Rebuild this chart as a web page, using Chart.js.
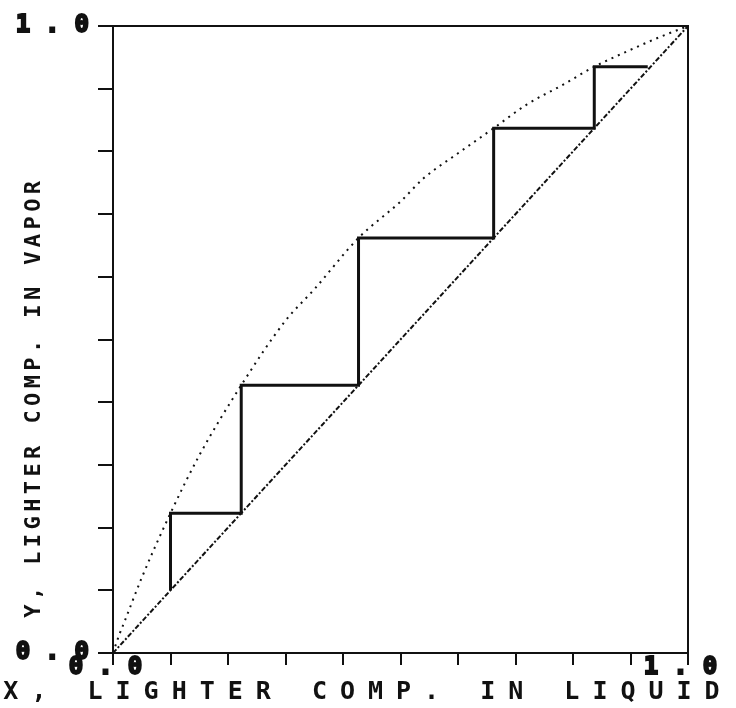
<!DOCTYPE html>
<html>
<head>
<meta charset="utf-8">
<script src="https://cdn.jsdelivr.net/npm/chart.js@4/dist/chart.umd.min.js"></script>
<style>
  html, body { margin: 0; padding: 0; background: #fff; }
  #wrap { width: 736px; height: 708px; }
</style>
</head>
<body>
<div id="wrap"><canvas id="c" width="736" height="708"></canvas></div>
<script>
// ---- data ----
const eqX = [0, 0.01, 0.02, 0.05, 0.10, 0.15, 0.223, 0.30, 0.35, 0.427, 0.50, 0.54, 0.60, 0.662, 0.72, 0.78, 0.837, 0.90, 0.95, 1.0];
const eqY = [0, 0.027, 0.05, 0.12, 0.223, 0.315, 0.427, 0.53, 0.58, 0.662, 0.72, 0.757, 0.797, 0.837, 0.875, 0.905, 0.935, 0.962, 0.982, 1.0];
const diagX = [0, 1];
const diagY = [0, 1];
const stepX = [0.10, 0.10, 0.223, 0.223, 0.427, 0.427, 0.662, 0.662, 0.837, 0.837, 0.93];
const stepY = [0.10, 0.223, 0.223, 0.427, 0.427, 0.662, 0.662, 0.837, 0.837, 0.935, 0.935];
const xTickLabels = ['0.0', '', '', '', '', '', '', '', '', '', '1.0'];
const yTickLabels = ['0.0', '', '', '', '', '', '', '', '', '', '1.0'];
const xTitle = 'X, LIGHTER COMP. IN LIQUID';
const yTitle = '  Y, LIGHTER COMP. IN VAPOR';

// ---- styling ----
const INK = '#111';
const MONO = "'DejaVu Sans Mono'";
const spacingBySize = { 24: '15px', 25: '13px', 22: '4.4px' };

const pts = (xs, ys) => xs.map((x, i) => ({ x: x, y: ys[i] }));

// printer-style wide letter spacing for the text Chart.js draws
const letterSpacingPlugin = {
  id: 'letterSpacing',
  beforeInit(chart) {
    const ctx = chart.ctx;
    const ft = ctx.fillText, st = ctx.strokeText, mt = ctx.measureText;
    const apply = () => {
      const m = /(\d+(?:\.\d+)?)px/.exec(ctx.font);
      ctx.letterSpacing = (m && spacingBySize[Math.round(parseFloat(m[1]))]) || '0px';
    };
    ctx.fillText = function (t, x, y) { apply(); return ft.call(ctx, t, x, y); };
    ctx.strokeText = function (t, x, y) { apply(); return st.call(ctx, t, x, y); };
    ctx.measureText = function (t) { apply(); return mt.call(ctx, t); };
  }
};

Chart.defaults.color = INK;

new Chart(document.getElementById('c'), {
  type: 'scatter',
  data: {
    datasets: [
      {
        label: 'y = x',
        data: pts(diagX, diagY),
        showLine: true,
        borderColor: INK,
        borderWidth: 2,
        borderDash: [5, 2, 2, 2],
        pointRadius: 0,
        tension: 0
      },
      {
        label: 'equilibrium',
        data: pts(eqX, eqY),
        showLine: true,
        borderColor: INK,
        borderWidth: 2,
        borderDash: [2, 5],
        pointRadius: 0,
        cubicInterpolationMode: 'monotone'
      },
      {
        label: 'stages',
        data: pts(stepX, stepY),
        showLine: true,
        borderColor: INK,
        borderWidth: 3,
        pointRadius: 0,
        tension: 0
      }
    ]
  },
  options: {
    responsive: false,
    animation: false,
    events: [],
    layout: { padding: { top: 26, right: 0, left: 0, bottom: 0 } },
    plugins: {
      legend: { display: false },
      tooltip: { enabled: false },
      title: {
        display: true, position: 'bottom', text: xTitle, color: INK,
        font: { family: MONO, weight: 'bold', size: 25 },
        padding: { top: 0, bottom: 1 }
      }
    },
    scales: {
      x: {
        type: 'linear', position: 'bottom', min: 0, max: 1,
        border: { display: true, color: INK, width: 2 },
        grid: { drawOnChartArea: false, drawTicks: true, tickLength: 12, color: INK, lineWidth: 2 },
        ticks: {
          stepSize: 0.1, autoSkip: false, maxRotation: 0, padding: -12,
          font: { family: MONO, weight: 'bold', size: 24 },
          color: INK, textStrokeColor: INK, textStrokeWidth: 2,
          callback: (v, i) => xTickLabels[i]
        },
        afterFit: s => { s.height = 24; }
      },
      y: {
        type: 'linear', position: 'left', min: 0, max: 1,
        border: { display: true, color: INK, width: 2 },
        grid: { drawOnChartArea: false, drawTicks: true, tickLength: 15, color: INK, lineWidth: 2 },
        ticks: {
          stepSize: 0.1, autoSkip: false, padding: -6,
          font: { family: MONO, weight: 'bold', size: 24 },
          color: INK, textStrokeColor: INK, textStrokeWidth: 2,
          callback: (v, i) => yTickLabels[i]
        },
        title: {
          display: true, text: yTitle, color: INK, align: 'start',
          font: { family: MONO, weight: 'bold', size: 22 },
          padding: { top: 21, bottom: 0 }
        },
        afterFit: s => { s.width = 113; }
      },
      xTop: {
        type: 'linear', position: 'top', min: 0, max: 1,
        border: { display: true, color: INK, width: 2 },
        grid: { display: false },
        ticks: { display: false },
        afterFit: s => { s.height = 0; }
      },
      yRight: {
        type: 'linear', position: 'right', min: 0, max: 1,
        border: { display: true, color: INK, width: 2 },
        grid: { display: false },
        ticks: { display: false },
        afterFit: s => { s.width = 48; }
      }
    }
  },
  plugins: [letterSpacingPlugin]
});
</script>
</body>
</html>
